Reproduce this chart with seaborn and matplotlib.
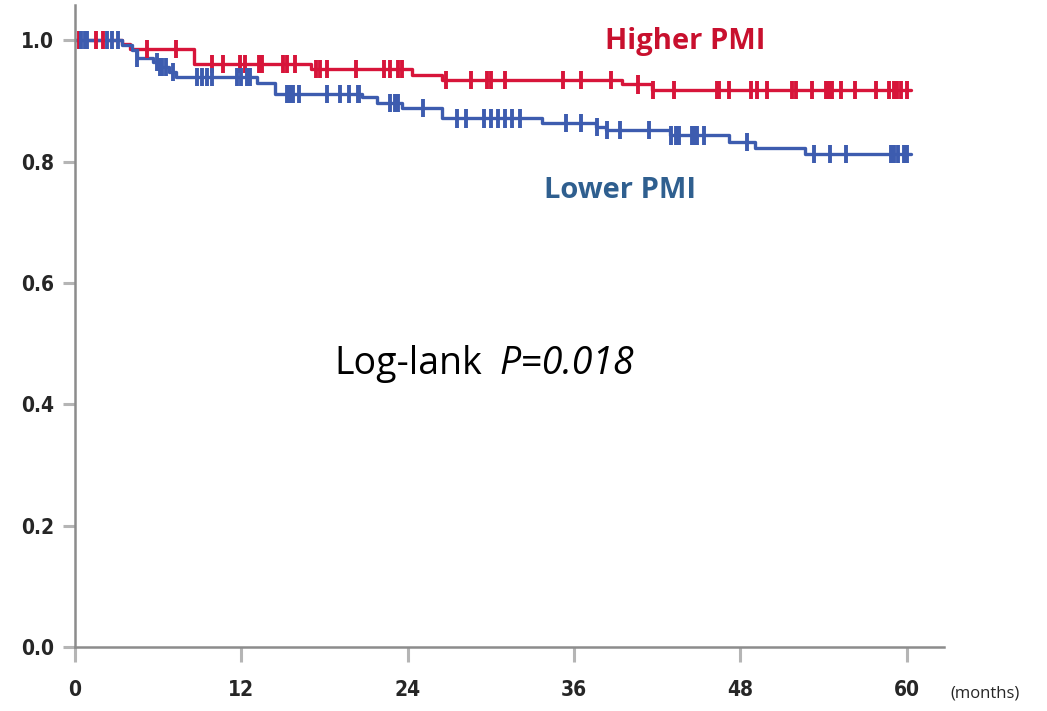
import numpy as np
import pandas as pd
import matplotlib
matplotlib.use("Agg")
import matplotlib.pyplot as plt
import seaborn as sns

# ---------------- data ----------------
higher_times = [0, 3.4, 4.0, 8.6, 17.0, 24.3, 26.5, 39.5, 41.6, 60.3]
higher_surv = [1.0, 0.993, 0.986, 0.961, 0.952, 0.942, 0.934, 0.927, 0.918, 0.918]
higher_censor = [0.3, 0.8, 1.5, 2.0, 5.2, 7.3, 9.9, 10.7, 11.9, 12.3, 13.3, 13.5,
                 15.0, 15.3, 15.9, 17.4, 17.7, 18.2, 20.3, 22.3, 22.7, 23.3, 23.6,
                 26.8, 28.6, 29.7, 30.0, 31.0, 35.2, 36.5, 38.7, 40.6, 41.7, 43.2,
                 46.3, 46.5, 47.2, 48.8, 49.2, 49.9, 51.7, 52.0, 53.2, 54.2, 54.4,
                 54.6, 55.3, 56.3, 57.8, 58.7, 59.1, 59.3, 59.6, 60.0]

lower_times = [0, 3.4, 4.1, 4.5, 5.6, 6.1, 6.8, 7.3, 13.1, 14.4, 20.7, 21.8, 23.6,
               26.5, 33.7, 37.6, 38.3, 42.9, 47.2, 49.1, 52.7, 60.3]
lower_surv = [1.0, 0.992, 0.984, 0.970, 0.964, 0.956, 0.948, 0.940, 0.929, 0.912,
              0.906, 0.896, 0.888, 0.871, 0.864, 0.857, 0.852, 0.843, 0.832, 0.822,
              0.812, 0.812]
lower_censor = [0.4, 0.7, 0.9, 2.3, 2.7, 3.1, 4.5, 5.9, 6.1, 6.3, 6.6, 7.1, 8.8, 9.2,
                9.5, 9.9, 11.7, 12.0, 12.4, 12.6, 15.3, 15.5, 15.7, 16.2, 18.2, 19.1,
                19.8, 20.4, 20.5, 22.7, 23.1, 23.3, 25.1, 27.6, 28.2, 29.5, 30.0,
                30.5, 31.0, 31.5, 32.1, 35.4, 36.5, 37.7, 38.4, 39.3, 41.4, 43.0,
                43.4, 43.6, 44.5, 44.7, 44.9, 45.4, 48.5, 53.3, 54.5, 55.6, 58.9,
                59.1, 59.4, 59.8, 60.0]

x_ticks = [0, 12, 24, 36, 48, 60]
y_ticks = [0.0, 0.2, 0.4, 0.6, 0.8, 1.0]
y_ticklabels = ["0.0", "0.2", "0.4", "0.6", "0.8", "1.0"]

RED = "#d7153a"
BLUE = "#3d5caf"

# ---------------- figure ----------------
sns.set_style("white")
plt.rcParams["font.family"] = ["DejaVu Sans"]

fig = plt.figure(figsize=(10.47, 7.11), dpi=100)
ax = fig.add_axes([0.0716, 0.090, 0.83, 0.903])

curves = pd.concat([
    pd.DataFrame({"t": higher_times, "s": higher_surv, "g": "Higher PMI"}),
    pd.DataFrame({"t": lower_times, "s": lower_surv, "g": "Lower PMI"}),
])

def censor_frame(times, steps, surv, name):
    idx = np.searchsorted(np.asarray(steps), np.asarray(times), side="right") - 1
    return pd.DataFrame({"t": times, "s": np.asarray(surv)[idx], "g": name})

cens = pd.concat([
    censor_frame(higher_censor, higher_times, higher_surv, "Higher PMI"),
    censor_frame(lower_censor, lower_times, lower_surv, "Lower PMI"),
])

palette = {"Higher PMI": RED, "Lower PMI": BLUE}
sns.lineplot(data=curves, x="t", y="s", hue="g", palette=palette,
             drawstyle="steps-post", linewidth=2.4, legend=False, ax=ax,
             estimator=None, sort=False)
sns.scatterplot(data=cens, x="t", y="s", hue="g", palette=palette, marker="|",
                s=170, linewidth=2.8, legend=False, ax=ax, zorder=3)

ax.set_xlim(0, 62.7)
ax.set_ylim(0, 1.058)
ax.set_xticks(x_ticks)
ax.set_yticks(y_ticks)
ax.set_yticklabels(y_ticklabels)
ax.set_xlabel("")
ax.set_ylabel("")

for side in ["top", "right"]:
    ax.spines[side].set_visible(False)
for side in ["left", "bottom"]:
    ax.spines[side].set_color("#8c8c8c")
    ax.spines[side].set_linewidth(1.8)

ax.tick_params(axis="x", bottom=True, direction="out", length=11, width=2.2,
               color="#b5b5b5", labelsize=15, pad=13)
ax.tick_params(axis="y", left=True, direction="out", length=9, width=2.2,
               color="#b5b5b5", labelsize=15, pad=6)
for lab in ax.get_xticklabels() + ax.get_yticklabels():
    lab.set_fontweight("bold")
    lab.set_fontstretch("condensed")
    lab.set_family(["Liberation Sans Narrow", "DejaVu Sans"])

ax.text(44.0, 0.998, "Higher PMI", color="#c8102e", fontsize=21, fontweight="bold",
        ha="center", va="center", family=["Open Sans", "DejaVu Sans"])
ax.text(39.3, 0.752, "Lower PMI", color="#2f5f8f", fontsize=21, fontweight="bold",
        ha="center", va="center", family=["Open Sans", "DejaVu Sans"])
ax.text(18.7, 0.466, "Log-lank", color="black", fontsize=27, ha="left",
        va="center", family=["Open Sans", "DejaVu Sans"])
ax.text(30.6, 0.466, "P=0.018", color="black", fontsize=27, ha="left",
        va="center", style="italic", family=["Open Sans", "DejaVu Sans"])
fig.text(0.941, 0.025, "(months)", fontsize=12, ha="center", va="center",
         family=["Open Sans", "DejaVu Sans"])

fig.savefig("out.png", dpi=100)
